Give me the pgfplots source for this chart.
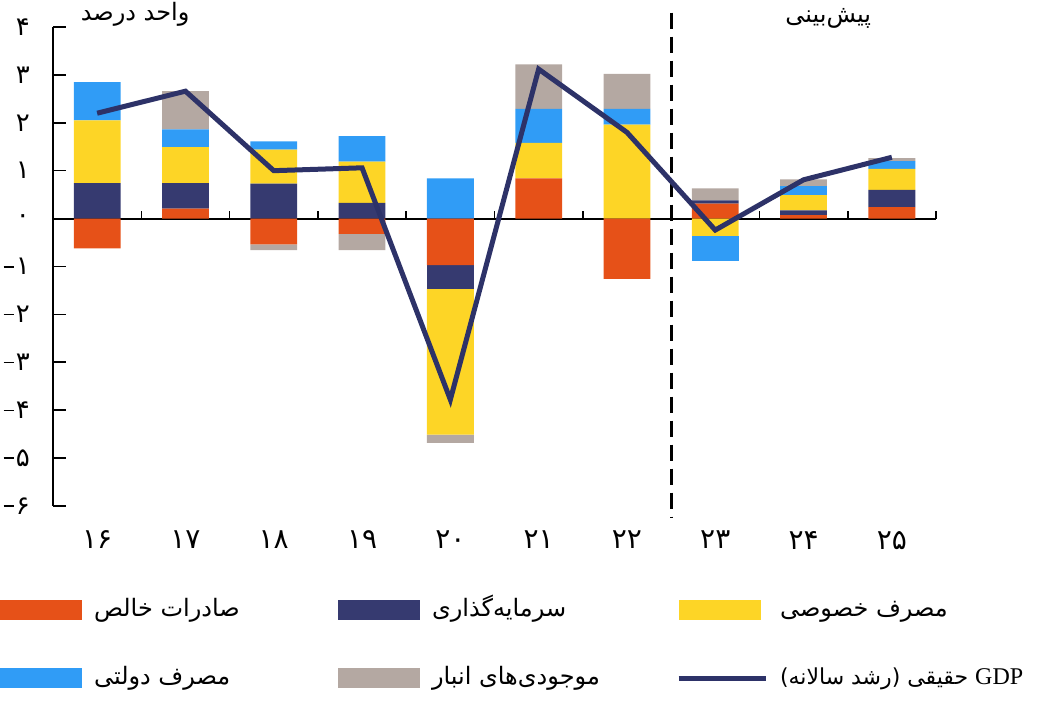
\documentclass[border=0pt]{standalone}
\usepackage{pgfplots}
\pgfplotsset{compat=1.18}
\usepackage{pgfplotstable}
\usepackage{fontspec}
\setmainfont{Liberation Serif}
\newfontfamily\fa[Script=Arabic]{DejaVu Sans}
\TeXXeTstate=1

\definecolor{cOr}{RGB}{230,81,24}
\definecolor{cNv}{RGB}{54,58,112}
\definecolor{cYe}{RGB}{253,213,38}
\definecolor{cBl}{RGB}{48,156,246}
\definecolor{cGr}{RGB}{180,168,162}
\definecolor{cLn}{RGB}{45,50,104}

% positive contributions: net exports, investment, private cons., gov. cons., inventories
\pgfplotstableread{
x ex inv pc gc st
0 0 0.74 1.31 0.80 0
1 0.21 0.53 0.75 0.37 0.80
2 0 0.73 0.71 0.17 0
3 0 0.33 0.86 0.53 0
4 0 0 0 0.84 0
5 0.84 0 0.74 0.71 0.93
6 0 0 1.96 0.33 0.73
7 0.31 0.07 0 0 0.25
8 0.07 0.10 0.32 0.19 0.14
9 0.24 0.36 0.44 0.16 0.06
}\posdata
% negative contributions
\pgfplotstableread{
x ex inv pc gc st
0 -0.62 0 0 0 0
1 0 0 0 0 0
2 -0.54 0 0 0 -0.12
3 -0.32 0 0 0 -0.34
4 -0.97 -0.50 -3.04 0 -0.17
5 0 0 0 0 0
6 -1.26 0 0 0 0
7 0 0 -0.36 -0.53 0
8 0 0 0 0 0
9 0 0 0 0 0
}\negdata
% real GDP growth
\pgfplotstableread{
x gdp
0 2.20
1 2.66
2 1.00
3 1.06
4 -3.78
5 3.12
6 1.80
7 -0.24
8 0.81
9 1.28
}\gdpdata

\newcommand\lgt[2][122pt]{\makebox[#1][l]{\fa\fontsize{12}{14}\selectfont\beginR #2\endR}}
\newcommand\mn{\rule[3.6pt]{5pt}{0.9pt}\hspace{1.2pt}}

\pgfplotsset{
  base/.style={scale only axis, width=441.5pt, height=239.5pt,
    xmin=-0.5, xmax=9.5, ymin=-6, ymax=4,
    at={(26.5pt,102pt)}, anchor=south west, clip=false},
  bars/.style={base, hide axis, ybar stacked, bar width=0.53},
}

\begin{document}
\begin{tikzpicture}
% axis A: frame, ticks, zero line
\begin{axis}[base,
  axis x line*=bottom, axis y line*=left,
  x axis line style={draw=none},
  xtick={0,...,9},
  xticklabels={۱۶,۱۷,۱۸,۱۹,۲۰,۲۱,۲۲,۲۳,۲۴,۲۵},
  x tick style={draw=none},
  xticklabel style={font=\fa\fontsize{14}{16}\selectfont, yshift=-9pt},
  ytick={-6,...,4},
  yticklabels={\mn۶,\mn۵,\mn۴,\mn۳,\mn۲,\mn۱,۰,۱,۲,۳,۴},
  yticklabel style={font=\fa\fontsize{13}{15}\selectfont, anchor=east, xshift=-8pt},
  y axis line style={line width=1.4pt, black},
  y tick style={line width=0.8pt, black},
  tick align=inside, major tick length=6.5pt,
]
\addplot[black, line width=1pt] coordinates {(-0.5,0) (9.5,0)};
\addplot[black, line width=0.8pt, ycomb] coordinates {(0.5,0.167) (1.5,0.167) (2.5,0.167) (3.5,0.167) (4.5,0.167) (5.5,0.167) (6.5,0.167) (7.5,0.167) (8.5,0.167) (9.5,0.167)};
\end{axis}
% axis B: positive stacks
\begin{axis}[bars]
\addplot[fill=cOr, draw=none] table[x=x,y=ex]{\posdata};
\addplot[fill=cNv, draw=none] table[x=x,y=inv]{\posdata};
\addplot[fill=cYe, draw=none] table[x=x,y=pc]{\posdata};
\addplot[fill=cBl, draw=none] table[x=x,y=gc]{\posdata};
\addplot[fill=cGr, draw=none] table[x=x,y=st]{\posdata};
\end{axis}
% axis C: negative stacks
\begin{axis}[bars]
\addplot[fill=cOr, draw=none] table[x=x,y=ex]{\negdata};
\addplot[fill=cNv, draw=none] table[x=x,y=inv]{\negdata};
\addplot[fill=cYe, draw=none] table[x=x,y=pc]{\negdata};
\addplot[fill=cBl, draw=none] table[x=x,y=gc]{\negdata};
\addplot[fill=cGr, draw=none] table[x=x,y=st]{\negdata};
\end{axis}
% axis D: GDP line, legend, annotations
\begin{axis}[base, hide axis,
  legend columns=3,
  legend style={at={(-0.0600,-0.1921)}, anchor=north west, draw=none, fill=none,
    inner sep=0pt, outer sep=0pt,
    nodes={inner sep=0pt, text height=9pt, text depth=4pt, anchor=base west},
    column sep=0pt, row sep=21pt,
    /tikz/every odd column/.append style={column sep=6pt}},
  barleg/.style={legend image code/.code={\fill[##1] (0pt,-2pt) rectangle (41pt,8pt);}},
  lineleg/.style={legend image code/.code={\draw[##1] (0pt,3pt) -- (43.5pt,3pt);}},
]
\addplot[black, line width=1.5pt, dash pattern=on 8pt off 4pt, forget plot] coordinates {(6.5,4.3) (6.5,-6.23)};
\addlegendimage{barleg, fill=cOr, draw=none}
\addlegendentry{\lgt{صادرات خالص}}
\addlegendimage{barleg, fill=cNv, draw=none}
\addlegendentry{\lgt{سرمایه‌گذاری}}
\addlegendimage{barleg, fill=cYe, draw=none}
\addlegendentry{\lgt[130pt]{مصرف خصوصی}}
\addlegendimage{barleg, fill=cBl, draw=none}
\addlegendentry{\lgt{مصرف دولتی}}
\addlegendimage{barleg, fill=cGr, draw=none}
\addlegendentry{\lgt{موجودی‌های انبار}}
\addplot[cLn, line width=2.5pt, lineleg] table[x=x,y=gdp]{\gdpdata};
\addlegendentry{\makebox[128pt][l]{\fa\fontsize{11}{13}\selectfont\beginR\beginL{\rmfamily\fontsize{12}{14}\selectfont GDP}\endL{} حقیقی (رشد سالانه)\endR}}
\node[font=\fa\fontsize{12}{14}\selectfont] at (axis cs:0.43,4.27) {\beginR واحد درصد\endR};
\node[font=\fa\fontsize{12}{14}\selectfont] at (axis cs:8.28,4.17) {\beginR پیش‌بینی\endR};
\end{axis}
\pgfresetboundingbox
\path[use as bounding box] (0,0) rectangle (519.5pt,355pt);
\end{tikzpicture}
\end{document}
